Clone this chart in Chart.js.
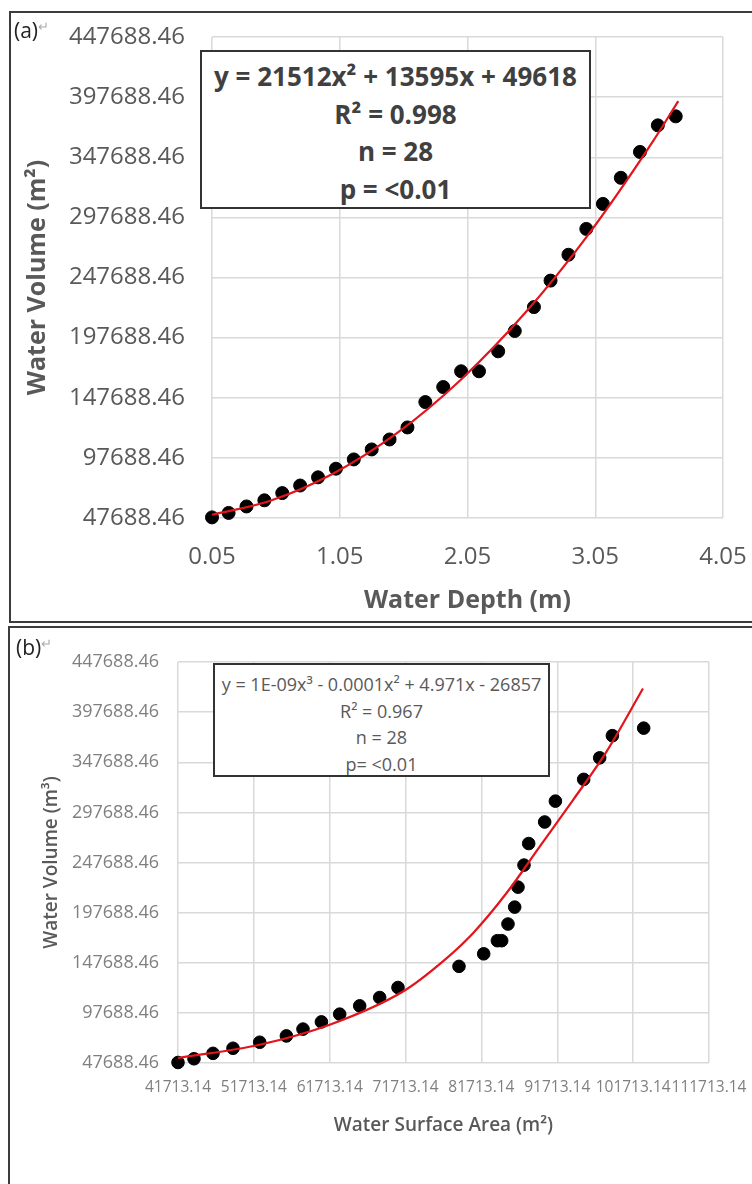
<!DOCTYPE html>
<html>
<head>
<meta charset="utf-8">
<script src="https://cdn.jsdelivr.net/npm/chart.js@4.4.1/dist/chart.umd.min.js"></script>
<style>
  html, body { margin: 0; padding: 0; background: #fff; }
  body { width: 752px; height: 1184px; position: relative; overflow: hidden; font-family: 'Open Sans', sans-serif; }
  .frame { position: absolute; border: 2px solid #3c3c3c; box-sizing: border-box; }
  canvas { position: absolute; left: 0; }
  .tag { position: absolute; color: #222; line-height: 1; }
  .tag span { color: #aaa; font-size: 13px; vertical-align: top; }
  .box { position: absolute; background: #fff; border: 2px solid #333; box-sizing: border-box; text-align: center; white-space: nowrap; }
  #boxA { left: 200px; top: 50px; width: 391px; height: 159px; padding-top: 6px; font-size: 26px; font-weight: 700; line-height: 37.5px; color: #404040; }
  #boxB { left: 213px; top: 663px; width: 337px; height: 114px; padding-top: 6px; font-size: 18px; line-height: 26.5px; color: #595959; }
</style>
</head>
<body>
<div class="frame" style="left:9px; top:11px; width:760px; height:612px;"></div>
<div class="frame" style="left:8px; top:626px; width:760px; height:580px;"></div>
<canvas id="chartA" width="752" height="620" style="top:0"></canvas>
<canvas id="chartB" width="752" height="564" style="top:620px"></canvas>
<div class="tag" style="left:14px; top:20px; font-size:21px;">(a)<span>&#8629;</span></div>
<div class="tag" style="left:16px; top:637px; font-size:21px;">(b)<span>&#8629;</span></div>
<div class="box" id="boxA">y = 21512x² + 13595x + 49618<br>R² = 0.998<br>n = 28<br>p = &lt;0.01</div>
<div class="box" id="boxB">y = 1E-09x³ - 0.0001x² + 4.971x - 26857<br>R² = 0.967<br>n = 28<br>p= &lt;0.01</div>
<script>
// volumes are shared by both panels (same survey points)
const volume = [48200, 51900, 57300, 62400, 68400, 74700, 81500, 88700, 96400, 104700,
  113000, 123000, 144100, 156600, 169700, 169700, 186300, 203200, 223100, 245100,
  266600, 288100, 308900, 330600, 352100, 374200, 381700]
const depth = [0.05, 0.18, 0.32, 0.46, 0.6, 0.74, 0.88, 1.02, 1.16, 1.3,
  1.44, 1.58, 1.72, 1.86, 2.0, 2.14, 2.29, 2.42, 2.57, 2.7,
  2.84, 2.98, 3.11, 3.25, 3.4, 3.54, 3.68]
const area = [41713, 43823, 46327, 48963, 52483, 56003, 58191, 60617, 63029, 65665,
  68300, 70713, 78755, 82012, 83817, 84384, 85214, 86098, 86533, 87324,
  87943, 90052, 91462, 95192, 97301, 98977, 103103]

// red trend lines
const depthFit = [0.05, 0.5, 1.0, 1.5, 2.0, 2.5, 3.0, 3.5, 3.7]
const depthFitVol = [50400, 61800, 84700, 118400, 162900, 218100, 284000, 360700, 394400]
const areaFit = [41713, 52483, 61713, 71373, 76873, 80600, 85003, 89393, 93783, 98186, 103010]
const areaFitVol = [52670, 65915, 85835, 119004, 150586, 177170, 217010, 263430, 309950, 358050, 421200]

const yTicks = [47688.46, 97688.46, 147688.46, 197688.46, 247688.46, 297688.46, 347688.46, 397688.46, 447688.46]
const yTickLabels = ['47688.46', '97688.46', '147688.46', '197688.46', '247688.46', '297688.46', '347688.46', '397688.46', '447688.46']
const xTicksA = [0.05, 1.05, 2.05, 3.05, 4.05]
const xTickLabelsA = ['0.05', '1.05', '2.05', '3.05', '4.05']
const xTicksB = [41713.14, 51713.14, 61713.14, 71713.14, 81713.14, 91713.14, 101713.14, 111713.14]
const xTickLabelsB = ['41713.14', '51713.14', '61713.14', '71713.14', '81713.14', '91713.14', '101713.14', '111713.14']

const toXY = (xs, ys) => xs.map((x, i) => ({ x: x, y: ys[i] }))

const makeChart = (id, o) => {
  const ctx = document.getElementById(id).getContext('2d')
  return new Chart(ctx, {
    type: 'scatter',
    data: {
      datasets: [
        {
          type: 'line',
          data: toXY(o.fitX, o.fitY),
          borderColor: '#e3141b',
          borderWidth: 2.2,
          pointRadius: 0,
          cubicInterpolationMode: 'monotone',
          order: 0,
          clip: false,
        },
        {
          data: toXY(o.x, volume),
          backgroundColor: '#000',
          borderColor: '#000',
          pointRadius: o.r,
          pointHoverRadius: o.r,
          order: 1,
          clip: false,
        },
      ],
    },
    options: {
      responsive: false,
      animation: false,
      devicePixelRatio: 1,
      layout: { padding: o.pad },
      plugins: { legend: { display: false }, tooltip: { enabled: false } },
      scales: {
        x: {
          type: 'linear',
          min: o.xTicks[0],
          max: o.xTicks[o.xTicks.length - 1],
          afterBuildTicks: (s) => { s.ticks = o.xTicks.map((v) => ({ value: v })) },
          afterFit: (s) => {
            s.height = o.xH
            // keep the plot edges where the layout padding puts them
            s.paddingLeft = 0
            s.paddingRight = 0
          },
          ticks: {
            autoSkip: false,
            maxRotation: 0,
            minRotation: 0,
            padding: o.xTickPad,
            color: o.tickColor,
            font: { family: 'Open Sans', size: o.xTickSize },
            callback: (v, i) => o.xLabels[i],
          },
          grid: { color: '#d9d9d9', lineWidth: 1.5, drawTicks: false },
          border: { display: false },
          title: {
            display: true,
            text: o.xTitle,
            color: o.titleColor,
            font: { family: 'Open Sans', size: o.titleSize, weight: o.titleWeight },
            padding: { top: 0, bottom: o.xTitlePad },
          },
        },
        y: {
          type: 'linear',
          min: yTicks[0],
          max: yTicks[yTicks.length - 1],
          afterBuildTicks: (s) => { s.ticks = yTicks.map((v) => ({ value: v })) },
          afterFit: (s) => {
            s.width = o.yW
            s.paddingTop = 0
            s.paddingBottom = 0
          },
          ticks: {
            padding: o.yTickPad,
            color: o.tickColor,
            font: { family: 'Open Sans', size: o.yTickSize },
            callback: (v, i) => yTickLabels[i],
          },
          grid: { color: '#d9d9d9', lineWidth: 1.5, drawTicks: false },
          border: { display: false },
          title: {
            display: true,
            text: o.yTitle,
            color: o.titleColor,
            font: { family: 'Open Sans', size: o.titleSize, weight: o.titleWeight },
            padding: { top: o.yTitlePad, bottom: 0 },
          },
        },
      },
    },
  })
}

makeChart('chartA', {
  x: depth, fitX: depthFit, fitY: depthFitVol, r: 6.5,
  xTicks: xTicksA, xLabels: xTickLabelsA,
  pad: { left: 0, top: 37, right: 29, bottom: 0 },
  xH: 102, yW: 212, xTickPad: 25, yTickPad: 27, xTitlePad: 4, yTitlePad: 23,
  xTickSize: 24, yTickSize: 24, tickColor: '#595959',
  titleSize: 25, titleWeight: 'bold', titleColor: '#595959',
  xTitle: 'Water Depth (m)', yTitle: 'Water Volume (m²)',
})

makeChart('chartB', {
  x: area, fitX: areaFit, fitY: areaFitVol, r: 6.3,
  xTicks: xTicksB, xLabels: xTickLabelsB,
  pad: { left: 0, top: 42, right: 43, bottom: 0 },
  xH: 121, yW: 178, xTickPad: 15, yTickPad: 19, xTitlePad: 47, yTitlePad: 40,
  xTickSize: 15.5, yTickSize: 18, tickColor: '#7f7f7f',
  titleSize: 19, titleWeight: '600', titleColor: '#595959',
  xTitle: 'Water Surface Area (m²)', yTitle: 'Water Volume (m³)',
})
</script>
</body>
</html>
